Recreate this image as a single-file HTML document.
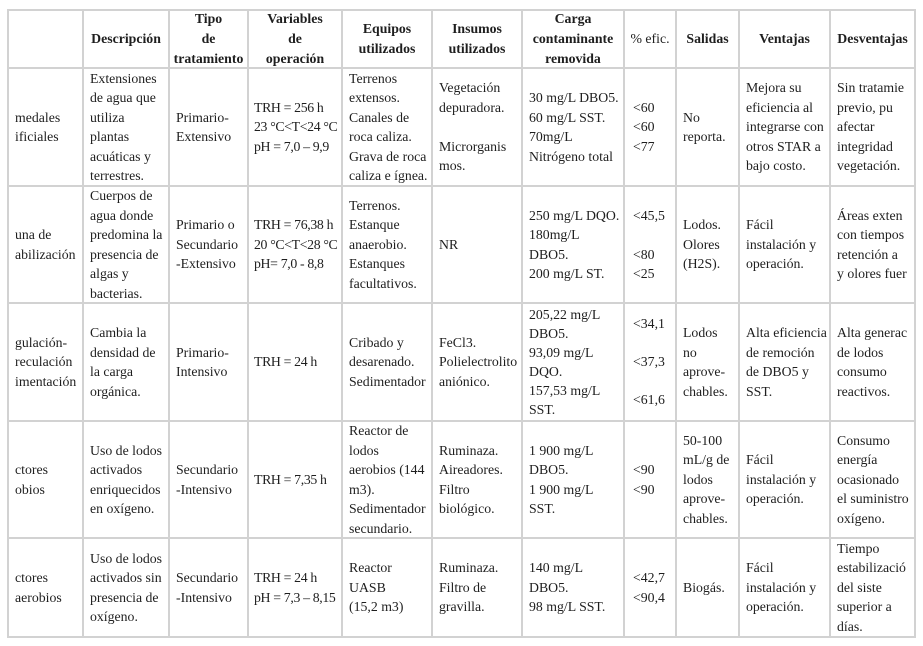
<!DOCTYPE html>
<html>
<head>
<meta charset="utf-8">
<style>
  html,body{margin:0;padding:0;background:#fff;}
  body{width:923px;height:646px;position:relative;overflow:hidden;
       font-family:"Liberation Serif",serif;font-size:13.8px;color:#1e1e1e;}
  .c{position:absolute;display:flex;align-items:center;box-sizing:border-box;
     padding-left:7px;overflow:hidden;white-space:nowrap;line-height:19.5px;}
  .h{justify-content:center;padding-left:0;text-align:center;font-weight:bold;line-height:19.8px;}
  .t{letter-spacing:-0.35px;padding-left:6px;}
  .v{position:absolute;width:2px;background:#d2d2d2;top:9px;height:629px;}
  .hl{position:absolute;height:2px;background:#d2d2d2;left:7px;width:909px;}
</style>
</head>
<body>
<!-- grid lines -->
<div class="v" style="left:7px"></div>
<div class="v" style="left:82px"></div>
<div class="v" style="left:168px"></div>
<div class="v" style="left:247px"></div>
<div class="v" style="left:341px"></div>
<div class="v" style="left:431px"></div>
<div class="v" style="left:521px"></div>
<div class="v" style="left:623px"></div>
<div class="v" style="left:675px"></div>
<div class="v" style="left:738px"></div>
<div class="v" style="left:829px"></div>
<div class="v" style="left:914px"></div>
<div class="hl" style="top:9px"></div>
<div class="hl" style="top:67px"></div>
<div class="hl" style="top:185px"></div>
<div class="hl" style="top:302px"></div>
<div class="hl" style="top:420px"></div>
<div class="hl" style="top:537px"></div>
<div class="hl" style="top:636px"></div>

<!-- header -->
<div class="c h" style="left:83px;top:10px;width:86px;height:58px;">Descripción</div>
<div class="c h" style="left:169px;top:10px;width:79px;height:58px;">Tipo<br>de<br>tratamiento</div>
<div class="c h" style="left:248px;top:10px;width:94px;height:58px;">Variables<br>de<br>operación</div>
<div class="c h" style="left:342px;top:10px;width:90px;height:58px;">Equipos<br>utilizados</div>
<div class="c h" style="left:432px;top:10px;width:90px;height:58px;">Insumos<br>utilizados</div>
<div class="c h" style="left:522px;top:10px;width:102px;height:58px;">Carga<br>contaminante<br>removida</div>
<div class="c h" style="left:624px;top:10px;width:52px;height:58px;font-weight:normal;">% efic.</div>
<div class="c h" style="left:676px;top:10px;width:63px;height:58px;">Salidas</div>
<div class="c h" style="left:739px;top:10px;width:91px;height:58px;">Ventajas</div>
<div class="c h" style="left:830px;top:10px;width:85px;height:58px;">Desventajas</div>

<!-- row 1 -->
<div class="c" style="left:8px;top:68px;width:75px;height:118px;">medales<br>ificiales</div>
<div class="c" style="left:83px;top:68px;width:86px;height:118px;">Extensiones<br>de agua que<br>utiliza<br>plantas<br>acuáticas y<br>terrestres.</div>
<div class="c" style="left:169px;top:68px;width:79px;height:118px;">Primario-<br>Extensivo</div>
<div class="c t" style="left:248px;top:68px;width:94px;height:118px;">TRH = 256 h<br>23 °C&lt;T&lt;24 °C<br>pH = 7,0 – 9,9</div>
<div class="c" style="left:342px;top:68px;width:90px;height:118px;">Terrenos<br>extensos.<br>Canales de<br>roca caliza.<br>Grava de roca<br>caliza e ígnea.</div>
<div class="c" style="left:432px;top:68px;width:90px;height:118px;">Vegetación<br>depuradora.<br>&nbsp;<br>Microrganis<br>mos.</div>
<div class="c" style="left:522px;top:68px;width:102px;height:118px;">30 mg/L DBO5.<br>60 mg/L SST.<br>70mg/L<br>Nitrógeno total</div>
<div class="c" style="left:624px;top:68px;width:52px;height:118px;padding-left:9px;">&lt;60<br>&lt;60<br>&lt;77</div>
<div class="c" style="left:676px;top:68px;width:63px;height:118px;">No<br>reporta.</div>
<div class="c" style="left:739px;top:68px;width:91px;height:118px;">Mejora su<br>eficiencia al<br>integrarse con<br>otros STAR a<br>bajo costo.</div>
<div class="c" style="left:830px;top:68px;width:85px;height:118px;">Sin tratamie<br>previo, pu<br>afectar<br>integridad<br>vegetación.</div>

<!-- row 2 -->
<div class="c" style="left:8px;top:186px;width:75px;height:117px;">una de<br>abilización</div>
<div class="c" style="left:83px;top:186px;width:86px;height:117px;">Cuerpos de<br>agua donde<br>predomina la<br>presencia de<br>algas y<br>bacterias.</div>
<div class="c" style="left:169px;top:186px;width:79px;height:117px;">Primario o<br>Secundario<br>-Extensivo</div>
<div class="c t" style="left:248px;top:186px;width:94px;height:117px;">TRH = 76,38 h<br>20 °C&lt;T&lt;28 °C<br>pH= 7,0 - 8,8</div>
<div class="c" style="left:342px;top:186px;width:90px;height:117px;">Terrenos.<br>Estanque<br>anaerobio.<br>Estanques<br>facultativos.</div>
<div class="c" style="left:432px;top:186px;width:90px;height:117px;">NR</div>
<div class="c" style="left:522px;top:186px;width:102px;height:117px;">250 mg/L DQO.<br>180mg/L<br>DBO5.<br>200 mg/L ST.</div>
<div class="c" style="left:624px;top:186px;width:52px;height:117px;padding-left:9px;">&lt;45,5<br>&nbsp;<br>&lt;80<br>&lt;25</div>
<div class="c" style="left:676px;top:186px;width:63px;height:117px;">Lodos.<br>Olores<br>(H2S).</div>
<div class="c" style="left:739px;top:186px;width:91px;height:117px;">Fácil<br>instalación y<br>operación.</div>
<div class="c" style="left:830px;top:186px;width:85px;height:117px;">Áreas exten<br>con tiempos<br>retención a<br>y olores fuer</div>

<!-- row 3 -->
<div class="c" style="left:8px;top:303px;width:75px;height:118px;">gulación-<br>reculación<br>imentación</div>
<div class="c" style="left:83px;top:303px;width:86px;height:118px;">Cambia la<br>densidad de<br>la carga<br>orgánica.</div>
<div class="c" style="left:169px;top:303px;width:79px;height:118px;">Primario-<br>Intensivo</div>
<div class="c t" style="left:248px;top:303px;width:94px;height:118px;">TRH = 24 h</div>
<div class="c" style="left:342px;top:303px;width:90px;height:118px;">Cribado y<br>desarenado.<br>Sedimentador</div>
<div class="c" style="left:432px;top:303px;width:90px;height:118px;">FeCl3.<br>Polielectrolito<br>aniónico.</div>
<div class="c" style="left:522px;top:303px;width:102px;height:118px;line-height:19px;">205,22 mg/L<br>DBO5.<br>93,09 mg/L<br>DQO.<br>157,53 mg/L<br>SST.</div>
<div class="c" style="left:624px;top:303px;width:52px;height:118px;padding-left:9px;line-height:38px;">&lt;34,1<br>&lt;37,3<br>&lt;61,6</div>
<div class="c" style="left:676px;top:303px;width:63px;height:118px;">Lodos<br>no<br>aprove-<br>chables.</div>
<div class="c" style="left:739px;top:303px;width:91px;height:118px;">Alta eficiencia<br>de remoción<br>de DBO5 y<br>SST.</div>
<div class="c" style="left:830px;top:303px;width:85px;height:118px;">Alta generac<br>de lodos<br>consumo<br>reactivos.</div>

<!-- row 4 -->
<div class="c" style="left:8px;top:421px;width:75px;height:117px;">ctores<br>obios</div>
<div class="c" style="left:83px;top:421px;width:86px;height:117px;">Uso de lodos<br>activados<br>enriquecidos<br>en oxígeno.</div>
<div class="c" style="left:169px;top:421px;width:79px;height:117px;">Secundario<br>-Intensivo</div>
<div class="c t" style="left:248px;top:421px;width:94px;height:117px;">TRH = 7,35 h</div>
<div class="c" style="left:342px;top:421px;width:90px;height:117px;">Reactor de<br>lodos<br>aerobios (144<br>m3).<br>Sedimentador<br>secundario.</div>
<div class="c" style="left:432px;top:421px;width:90px;height:117px;">Ruminaza.<br>Aireadores.<br>Filtro<br>biológico.</div>
<div class="c" style="left:522px;top:421px;width:102px;height:117px;">1 900 mg/L<br>DBO5.<br>1 900 mg/L<br>SST.</div>
<div class="c" style="left:624px;top:421px;width:52px;height:117px;padding-left:9px;">&lt;90<br>&lt;90</div>
<div class="c" style="left:676px;top:421px;width:63px;height:117px;">50-100<br>mL/g de<br>lodos<br>aprove-<br>chables.</div>
<div class="c" style="left:739px;top:421px;width:91px;height:117px;">Fácil<br>instalación y<br>operación.</div>
<div class="c" style="left:830px;top:421px;width:85px;height:117px;">Consumo<br>energía<br>ocasionado<br>el suministro<br>oxígeno.</div>

<!-- row 5 -->
<div class="c" style="left:8px;top:538px;width:75px;height:99px;">ctores<br>aerobios</div>
<div class="c" style="left:83px;top:538px;width:86px;height:99px;">Uso de lodos<br>activados sin<br>presencia de<br>oxígeno.</div>
<div class="c" style="left:169px;top:538px;width:79px;height:99px;">Secundario<br>-Intensivo</div>
<div class="c t" style="left:248px;top:538px;width:94px;height:99px;">TRH = 24 h<br>pH = 7,3 – 8,15</div>
<div class="c" style="left:342px;top:538px;width:90px;height:99px;">Reactor<br>UASB<br>(15,2 m3)</div>
<div class="c" style="left:432px;top:538px;width:90px;height:99px;">Ruminaza.<br>Filtro de<br>gravilla.</div>
<div class="c" style="left:522px;top:538px;width:102px;height:99px;">140 mg/L<br>DBO5.<br>98 mg/L SST.</div>
<div class="c" style="left:624px;top:538px;width:52px;height:99px;padding-left:9px;">&lt;42,7<br>&lt;90,4</div>
<div class="c" style="left:676px;top:538px;width:63px;height:99px;">Biogás.</div>
<div class="c" style="left:739px;top:538px;width:91px;height:99px;">Fácil<br>instalación y<br>operación.</div>
<div class="c" style="left:830px;top:538px;width:85px;height:99px;">Tiempo<br>estabilizació<br>del siste<br>superior a<br>días.</div>
</body>
</html>
